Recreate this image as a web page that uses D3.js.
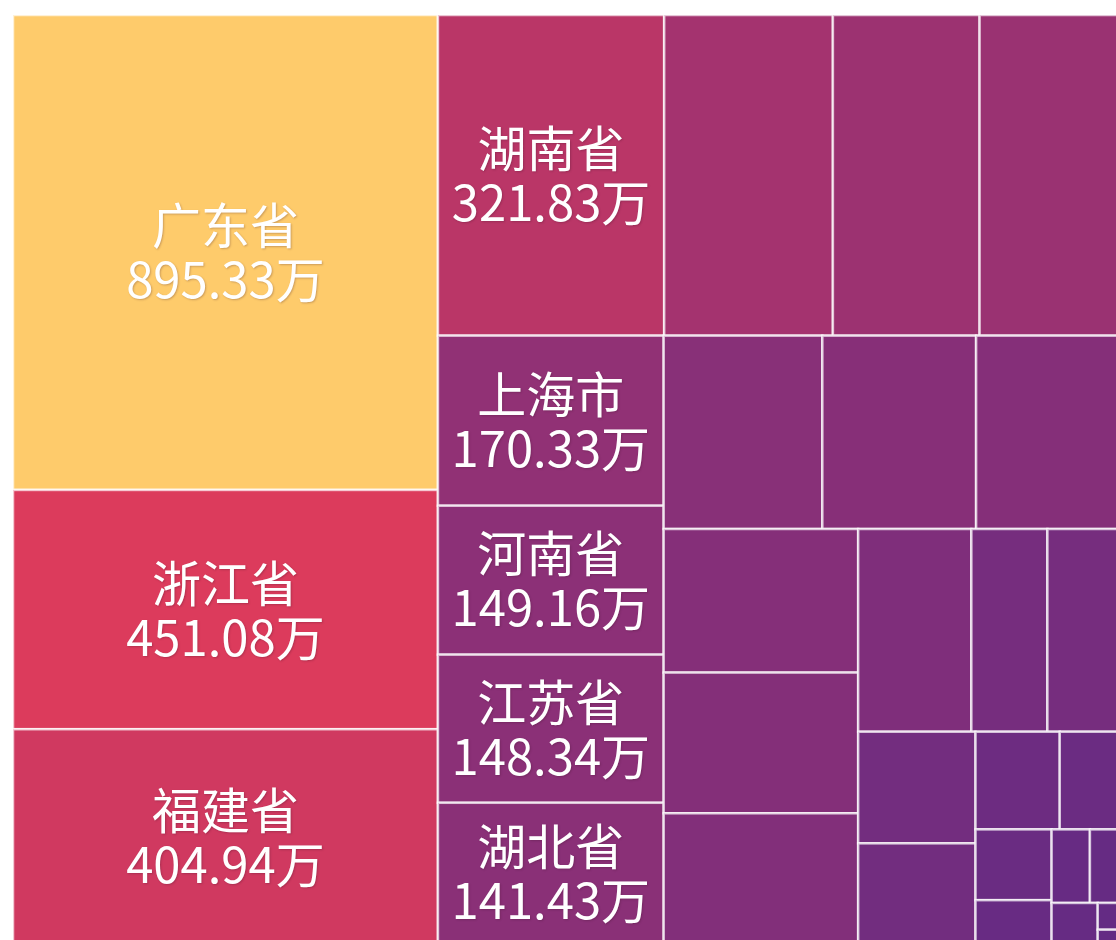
<!DOCTYPE html>
<html>
<head>
<meta charset="utf-8">
<script src="https://cdn.jsdelivr.net/npm/d3@7"></script>
<style>
  html, body { margin: 0; padding: 0; background: #fff; overflow: hidden; }
  #treemap text {
    font-family: "Noto Sans CJK SC", "Noto Sans", sans-serif;
    fill: #fff;
    text-anchor: middle;
    text-shadow: 1px 1px 2px rgba(60, 20, 40, 0.25);
  }
</style>
</head>
<body>
<div id="treemap"></div>
<script>
// labelled provinces (value in 万)
const provinces = ["广东省", "浙江省", "福建省", "湖南省", "上海市", "河南省", "江苏省", "湖北省"];
const provinceValues = [895.33, 451.08, 404.94, 321.83, 170.33, 149.16, 148.34, 141.43];
// the other cells carry no label in the picture, values estimated from their areas
const otherValues = [240, 208.7, 204, 136.1, 131.9, 126, 123.9, 121.4, 112.8, 101.8,
  68.4, 68, 58.1, 52.4, 36.5, 27.4, 23.9, 14.8, 12.5, 10.8, 8.4, 3.0, 1.6];
const unit = "万";
const colorStops = ["#642b84", "#dc3a5c", "#fecb6b"];

class TreemapChart {

  constructor(_config, _data) {
    this.config = {
      parentElement: _config.parentElement,
      containerWidth: _config.containerWidth || 1116,
      containerHeight: _config.containerHeight || 940,
      margin: _config.margin || {top: 15, left: 13},
      // the map runs a little past the right and bottom edge of the window
      mapWidth: _config.mapWidth || 1110,
      mapHeight: _config.mapHeight || 929,
      fontSize: _config.fontSize || 49
    };
    this.data = _data;
    this.initVis();
  }

  initVis() {
    let vis = this;

    vis.svg = d3.select(vis.config.parentElement)
      .append("svg")
      .attr("width", vis.config.containerWidth)
      .attr("height", vis.config.containerHeight)
      .style("display", "block");

    vis.chart = vis.svg.append("g")
      .attr("transform", `translate(${vis.config.margin.left},${vis.config.margin.top})`);

    vis.treemap = d3.treemap()
      .tile(d3.treemapSquarify)
      .size([vis.config.mapWidth, vis.config.mapHeight]);

    vis.updateVis();
  }

  updateVis() {
    let vis = this;

    vis.root = d3.hierarchy({children: vis.data})
      .sum(d => d.value)
      .sort((a, b) => b.value - a.value);
    vis.treemap(vis.root);

    let ext = d3.extent(vis.data, d => d.value);
    vis.colorScale = d3.scaleLinear()
      .domain([ext[0], (ext[0] + ext[1]) / 2, ext[1]])
      .range(colorStops);

    vis.renderVis();
  }

  renderVis() {
    let vis = this;

    const cell = vis.chart.selectAll("g.cell")
      .data(vis.root.leaves())
      .join("g")
        .attr("class", "cell")
        .attr("transform", d => `translate(${d.x0},${d.y0})`);

    cell.append("rect")
      .attr("width", d => d.x1 - d.x0)
      .attr("height", d => d.y1 - d.y0)
      .attr("fill", d => vis.colorScale(d.value))
      .attr("stroke", "#fff")
      .attr("stroke-opacity", 0.72)
      .attr("stroke-width", 2.5);

    // name and value as two lines of one label
    const label = cell.filter(d => d.data.name)
      .append("text")
        .style("font-size", vis.config.fontSize + "px");

    label.append("tspan")
      .attr("x", d => (d.x1 - d.x0) / 2)
      .attr("y", d => (d.y1 - d.y0) / 2 - 8)
      .text(d => d.data.name);

    label.append("tspan")
      .attr("x", d => (d.x1 - d.x0) / 2)
      .attr("y", d => (d.y1 - d.y0) / 2 + 46)
      .text(d => d3.format(".2f")(d.value) + unit);
  }
}

const data = provinces.map((p, i) => ({name: p, value: provinceValues[i]}))
  .concat(otherValues.map(v => ({name: "", value: v})));

new TreemapChart({parentElement: "#treemap"}, data);
</script>
</body>
</html>
